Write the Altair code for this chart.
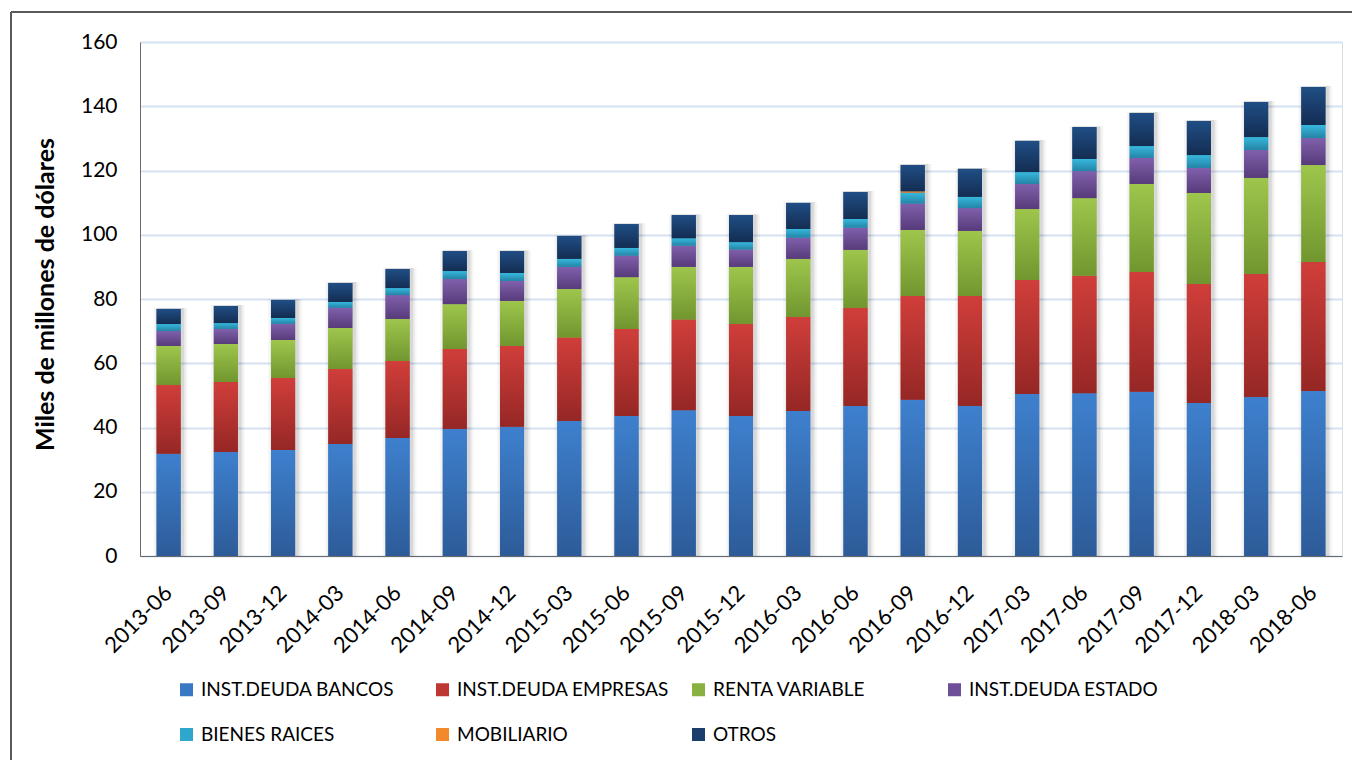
import altair as alt
import pandas as pd

categories = ["2013-06", "2013-09", "2013-12", "2014-03", "2014-06", "2014-09", "2014-12",
              "2015-03", "2015-06", "2015-09", "2015-12", "2016-03", "2016-06", "2016-09",
              "2016-12", "2017-03", "2017-06", "2017-09", "2017-12", "2018-03", "2018-06"]

series_names = ["INST.DEUDA BANCOS", "INST.DEUDA EMPRESAS", "RENTA VARIABLE",
                "INST.DEUDA ESTADO", "BIENES RAICES", "MOBILIARIO", "OTROS"]

deuda_bancos = [31.8, 32.4, 33.0, 34.9, 36.7, 39.5, 40.2, 42.0, 43.6, 45.4, 43.6,
                45.1, 46.7, 48.6, 46.7, 50.4, 50.7, 51.1, 47.6, 49.5, 51.4]
deuda_empresas = [21.4, 21.8, 22.4, 23.3, 24.0, 24.9, 25.2, 26.0, 27.1, 28.2, 28.6,
                  29.3, 30.5, 32.3, 34.2, 35.5, 36.5, 37.3, 37.1, 38.3, 40.1]
renta_variable = [12.2, 11.8, 11.8, 12.8, 13.1, 14.0, 14.0, 15.1, 16.1, 16.4, 17.8,
                  18.1, 18.1, 20.6, 20.3, 22.1, 24.2, 27.4, 28.3, 29.9, 30.2]
deuda_estado = [4.6, 4.7, 5.1, 6.3, 7.4, 7.8, 6.2, 6.9, 6.7, 6.6, 5.4,
                6.6, 6.9, 8.2, 7.1, 7.8, 8.4, 8.1, 7.8, 8.7, 8.4]
bienes_raices = [2.2, 1.8, 1.8, 1.8, 2.2, 2.5, 2.5, 2.5, 2.4, 2.3, 2.3,
                 2.7, 2.7, 3.4, 3.5, 3.7, 3.8, 3.7, 4.0, 4.0, 4.1]
mobiliario = [0.0, 0.0, 0.0, 0.0, 0.0, 0.0, 0.0, 0.0, 0.0, 0.0, 0.0,
              0.0, 0.0, 0.4, 0.0, 0.0, 0.0, 0.0, 0.0, 0.0, 0.0]
otros = [4.7, 5.3, 5.6, 5.9, 5.9, 6.2, 6.8, 7.1, 7.4, 7.2, 8.4,
         8.1, 8.4, 8.2, 8.7, 9.7, 9.9, 10.3, 10.6, 10.9, 11.8]

y_ticks = [0, 20, 40, 60, 80, 100, 120, 140, 160]

solid_colors = ["#3A78C4", "#BF3733", "#8AB13F", "#6E4F9A", "#2FA6CB", "#F28A2C", "#1B3E6C"]
grad_top = ["#3E80CE", "#D03E3A", "#9EC64C", "#8060AC", "#37B8DD", "#FA993C", "#204E85"]
grad_bottom = ["#2D5B98", "#952725", "#71962F", "#573B7A", "#2484A6", "#D06C1C", "#132D52"]

all_series = [deuda_bancos, deuda_empresas, renta_variable, deuda_estado,
              bienes_raices, mobiliario, otros]

rows = []
for i, c in enumerate(categories):
    for k, name in enumerate(series_names):
        rows.append({"cat": c, "serie": name, "idx": k, "value": all_series[k][i]})
df = pd.DataFrame(rows)

FONT = "Lato"

x_enc = alt.X("cat:N", sort=categories,
              scale=alt.Scale(paddingInner=0.58, paddingOuter=0.29),
              axis=alt.Axis(title=None, labelAngle=-45, labelAlign="right",
                            labelBaseline="middle", labelPadding=33, ticks=False,
                            domainColor="#6B6B6B", domainWidth=1, grid=False,
                            labelFontSize=22, labelFont=FONT, labelColor="#000000"))
AXIS_Y = alt.Axis(values=y_ticks, title="Miles de millones de dólares",
                  titleFont=FONT, titleFontSize=25, titleFontWeight="bold",
                  titleColor="#000000", titleAngle=-90, titleX=-95, titleY=252,
                  titleAlign="center", titleBaseline="middle",
                  labelFont=FONT, labelFontSize=21, labelColor="#000000",
                  labelPadding=23, ticks=False, domainColor="#6B6B6B",
                  grid=True, gridColor="#D6E1F1", gridWidth=2)
Y_SCALE = alt.Scale(domain=[0, 160], nice=False)
y_enc = alt.Y("y0:Q", scale=Y_SCALE, axis=AXIS_Y)


def stacked():
    return alt.Chart(df).transform_stack(
        stack="value", groupby=["cat"], sort=[alt.SortField("idx", order="ascending")],
        as_=["y0", "y1"])


# soft shadow behind each bar (Excel-style)
shadow_layers = []
for w, op in [(34, 0.035), (30, 0.05), (27, 0.07)]:
    shadow_layers.append(
        stacked().transform_filter(alt.datum.serie == series_names[-1])
        .mark_bar(width=w, xOffset=2, yOffset=-1, color="#000000", opacity=op)
        .encode(x=x_enc, y=alt.Y("y1:Q", scale=Y_SCALE, axis=AXIS_Y), y2=alt.datum(0))
    )

legend_layer = stacked().mark_bar().encode(
    x=x_enc, y=y_enc, y2="y1:Q",
    color=alt.Color("serie:N",
                    scale=alt.Scale(domain=series_names, range=solid_colors),
                    legend=alt.Legend(title=None, orient="none", legendX=37, legendY=638,
                                      columns=4, direction="horizontal", gridAlign="all",
                                      columnPadding=20, rowPadding=25,
                                      symbolType="square", symbolSize=169,
                                      symbolStrokeWidth=0, labelOffset=5,
                                      labelFont=FONT, labelFontSize=19,
                                      labelColor="#000000", labelLimit=400)),
)

layers = shadow_layers + [legend_layer]
for k, name in enumerate(series_names):
    grad = alt.Gradient(gradient="linear", x1=0, y1=0, x2=0, y2=1,
                        stops=[alt.GradientStop(offset=0, color=grad_top[k]),
                               alt.GradientStop(offset=1, color=grad_bottom[k])])
    layers.append(
        stacked().transform_filter(alt.datum.serie == name)
        .mark_bar(fill=grad).encode(x=x_enc, y=y_enc, y2="y1:Q")
    )

frame_left = alt.Chart(df).mark_rule(color="#5A5A5A", strokeWidth=1).encode(
    x=alt.value(-129), y=alt.value(-30), y2=alt.value(720))
frame_top = alt.Chart(df).mark_rule(color="#5A5A5A", strokeWidth=1).encode(
    x=alt.value(-129), x2=alt.value(1220), y=alt.value(-30))

chart = alt.layer(*layers, frame_left, frame_top).properties(
    width=1202, height=514,
    autosize=alt.AutoSizeParams(type="none"),
    padding={"left": 132, "top": 34, "right": 10, "bottom": 204},
).configure_view(stroke="transparent").configure(background="#FFFFFF")

chart.save("out.html", embed_options={"renderer": "svg", "actions": False})
